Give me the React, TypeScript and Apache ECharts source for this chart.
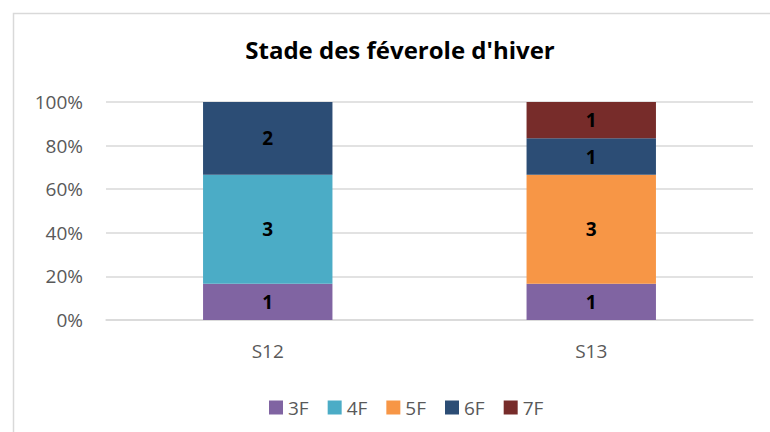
import React, { useEffect, useRef } from "react";
import * as echarts from "echarts";

const categories = ["S12", "S13"];
const seriesNames = ["3F", "4F", "5F", "6F", "7F"];
const s3F = [1, 1];
const s4F = [3, null];
const s5F = [null, 3];
const s6F = [2, 1];
const s7F = [null, 1];
const colors = ["#8064A2", "#4BACC6", "#F79646", "#2C4D75", "#772C2A"];
const yTicks = [0, 20, 40, 60, 80, 100];

export default function App() {
  const ref = useRef<HTMLDivElement>(null);
  useEffect(() => {
    if (!ref.current) return;
    const chart = echarts.init(ref.current, null, { renderer: "svg" });
    const all = [s3F, s4F, s5F, s6F, s7F];
    const totals = categories.map((_, i) =>
      all.reduce((s, arr) => s + (arr[i] ?? 0), 0)
    );
    const font = "Open Sans, Noto Sans, sans-serif";
    chart.setOption({
      animation: false,
      graphic: [
        {
          type: "rect",
          shape: { x: 13.5, y: 13.5, width: 900, height: 600 },
          style: { fill: "none", stroke: "#d9d9d9", lineWidth: 1.5 },
          silent: true,
        },
      ],
      title: {
        text: "Stade des féverole d'hiver",
        left: 395,
        textAlign: "center",
        top: 32,
        textStyle: { fontFamily: font, fontWeight: "bold", fontSize: 24, color: "#000" },
      },
      legend: {
        data: seriesNames,
        left: 264,
        top: 393,
        itemWidth: 14,
        itemHeight: 14,
        itemGap: 19,
        icon: "rect",
        textStyle: { fontFamily: font, fontSize: 19, color: "#595959" },
      },
      grid: { left: 106, right: 17, top: 102, bottom: 112, containLabel: false },
      xAxis: {
        type: "category",
        data: categories,
        axisLine: { show: true, lineStyle: { color: "#d9d9d9", width: 1.5 } },
        axisTick: { show: false },
        axisLabel: { fontFamily: font, fontSize: 19, color: "#595959", margin: 21 },
      },
      yAxis: {
        type: "value",
        min: 0,
        max: 100,
        interval: 20,
        axisLine: { show: false },
        axisTick: { show: false },
        splitLine: { lineStyle: { color: "#d9d9d9", width: 1.5 } },
        axisLabel: {
          fontFamily: font,
          fontSize: 19,
          color: "#595959",
          margin: 23,
          formatter: (v: number) => (yTicks.includes(v) ? v + "%" : ""),
        },
      },
      series: seriesNames.map((name, si) => ({
        name,
        type: "bar",
        stack: "total",
        barWidth: "40%",
        itemStyle: { color: colors[si] },
        label: {
          show: true,
          position: "inside",
          fontFamily: font,
          fontWeight: "bold",
          fontSize: 19,
          color: "#000",
          formatter: (p: any) => (p.data && p.data.raw != null ? String(p.data.raw) : ""),
        },
        data: all[si].map((v, i) =>
          v == null ? { value: 0, raw: null } : { value: (v / totals[i]) * 100, raw: v }
        ),
      })),
    });
    return () => chart.dispose();
  }, []);
  return (
    <div
      ref={ref}
      style={{ position: "fixed", left: 0, top: 0, width: 770, height: 432, background: "#fff" }}
    />
  );
}
